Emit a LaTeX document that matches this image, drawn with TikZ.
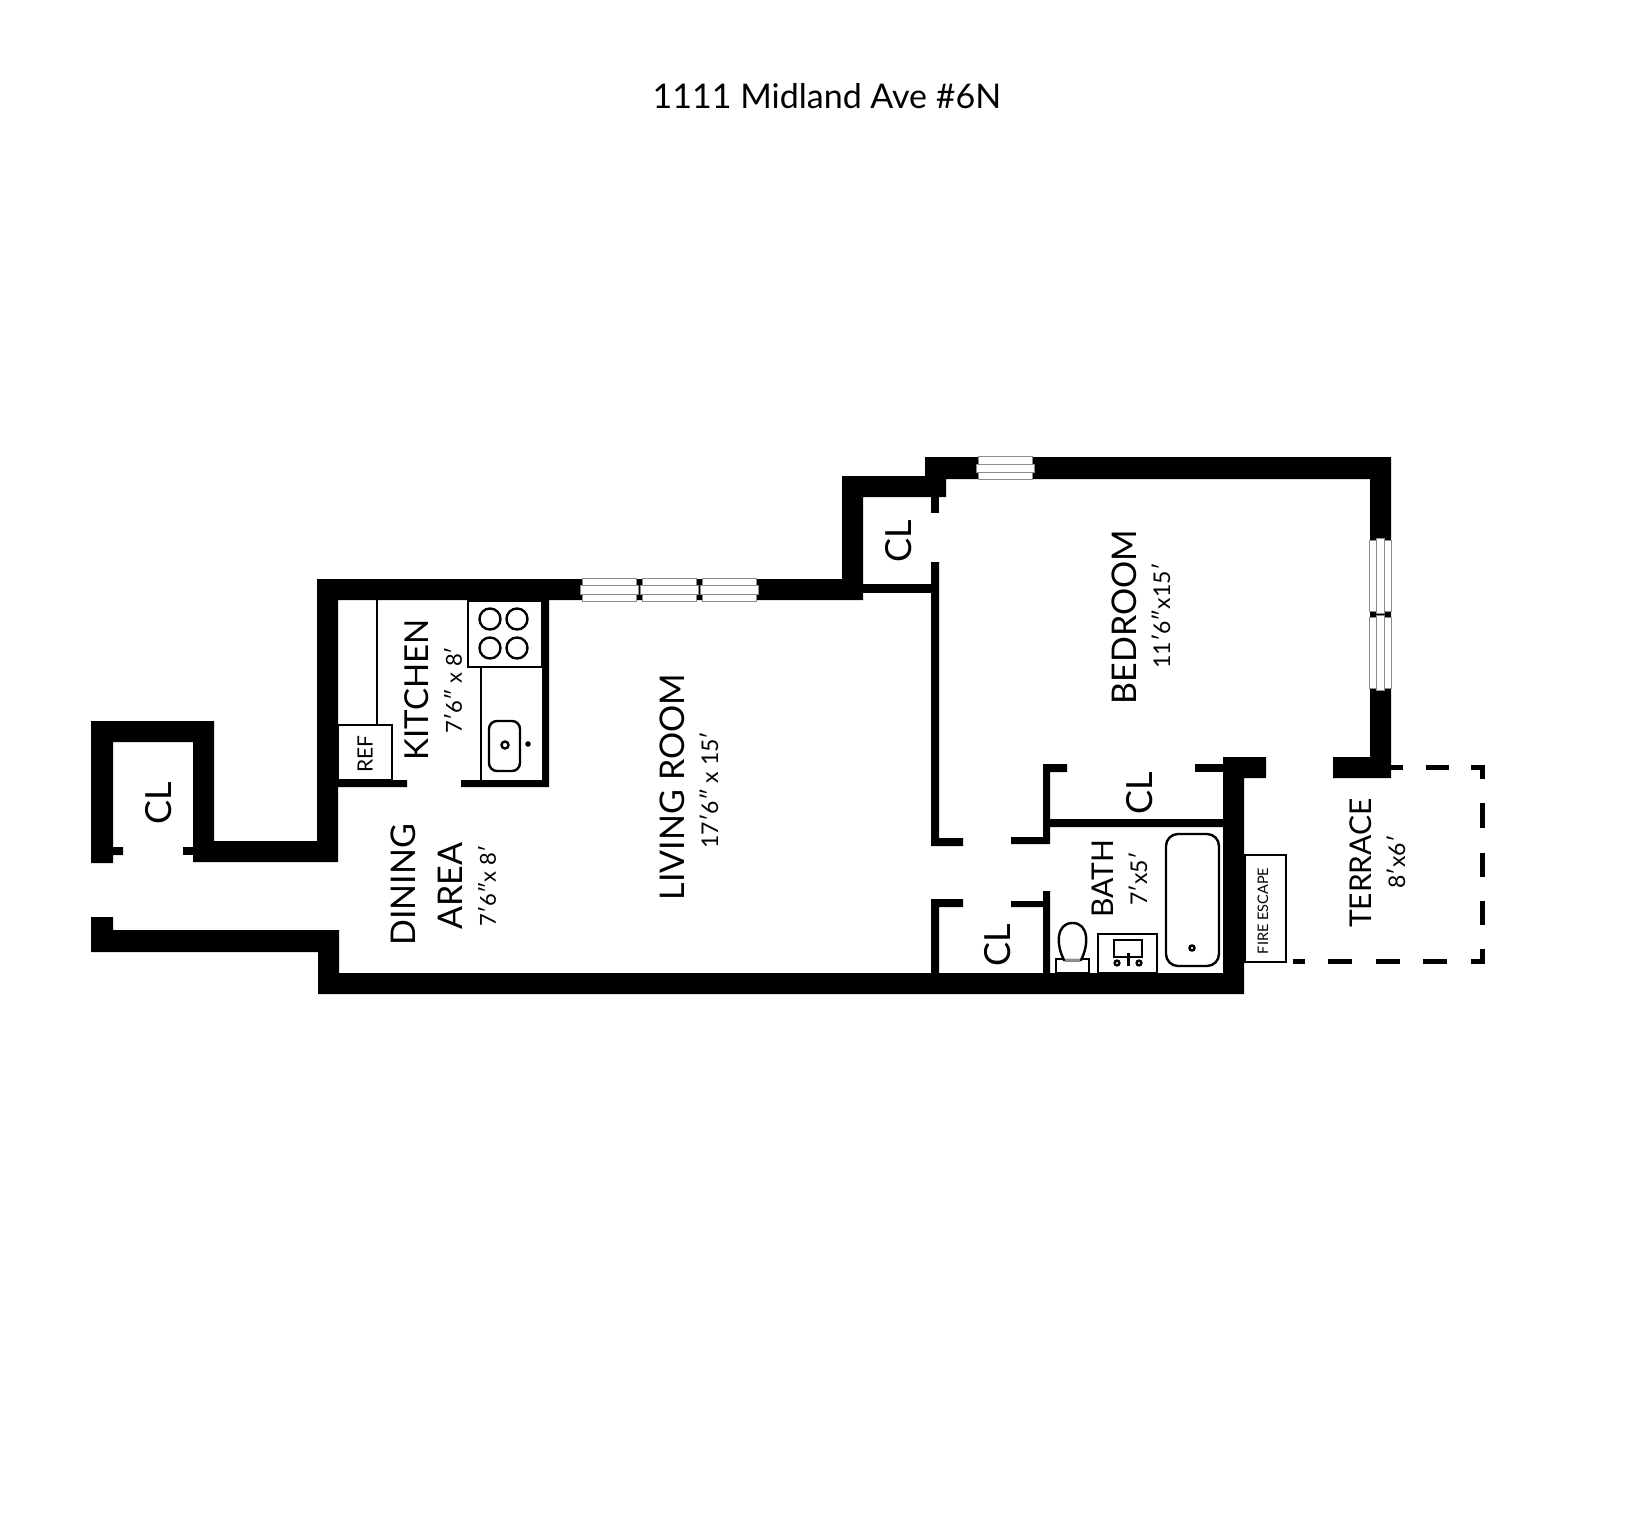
\documentclass[tikz,border=0pt]{standalone}
\usepackage{fontspec}
\setmainfont{Lato}
\usepackage{tikz}
\tikzset{
  wall/.style={fill=black,draw=none},
  fixture/.style={draw=black,line width=2.4pt,fill=white},
  pane/.style={draw=black!45,line width=1pt,fill=white},
  railing/.style={fill=black,draw=none},
  roomname/.style={rotate=90,inner sep=0pt,font=\fontsize{34}{34}\selectfont},
  smallroom/.style={rotate=90,inner sep=0pt,font=\fontsize{30}{30}\selectfont},
  closet/.style={rotate=90,inner sep=0pt,font=\fontsize{36}{36}\selectfont},
  roomsize/.style={rotate=90,inner sep=0pt,font=\fontsize{23}{23}\selectfont}
}
\begin{document}
\begin{tikzpicture}[x=1pt,y=-1pt]
  \useasboundingbox (0,0) rectangle (1634,1536);
  \fill[white] (0,0) rectangle (1634,1536);
  \node[inner sep=0pt,font=\fontsize{34}{34}\selectfont] (title) at (827,96) {1111 Midland Ave \#6N};
  % outer walls
  \fill[wall] (91,863) -- (91,721) -- (214,721) -- (214,841) -- (317,841) -- (317,579) -- (842,579) -- (842,476) -- (925,476) -- (925,457) -- (1391,457) -- (1391,778) -- (1333,778) -- (1333,757) -- (1370,757) -- (1370,479) -- (946,479) -- (946,497) -- (863,497) -- (863,600) -- (549,600) -- (549,787) -- (461,787) -- (461,780) -- (542,780) -- (542,600) -- (338,600) -- (338,780) -- (407,780) -- (407,787) -- (338,787) -- (338,862) -- (193,862) -- (193,742) -- (113,742) -- (113,847) -- (123,847) -- (123,855) -- (113,855) -- (113,863) -- cycle;
  \fill[wall] (183,847) rectangle (193,855);
  \fill[wall] (91,917) -- (113,917) -- (113,930) -- (339,930) -- (339,973) -- (1223,973) -- (1223,757) -- (1266,757) -- (1266,778) -- (1244,778) -- (1244,994) -- (318,994) -- (318,952) -- (91,952) -- cycle;
  % inner walls
  \fill[wall] (931,497) rectangle (939,513);
  \fill[wall] (863,584) rectangle (939,593);
  \fill[wall] (931,562) -- (939,562) -- (939,838) -- (963,838) -- (963,846) -- (931,846) -- cycle;
  \fill[wall] (931,973) -- (931,899) -- (963,899) -- (963,907) -- (939,907) -- (939,973) -- cycle;
  \fill[wall] (1011,901) -- (1043,901) -- (1043,891) -- (1050,891) -- (1050,973) -- (1043,973) -- (1043,907) -- (1011,907) -- cycle;
  \fill[wall] (1011,837) -- (1043,837) -- (1043,764) -- (1067,764) -- (1067,772) -- (1050,772) -- (1050,819) -- (1223,819) -- (1223,827) -- (1050,827) -- (1050,844) -- (1011,844) -- cycle;
  \fill[wall] (1195,764) rectangle (1223,772);
  % windows
  \foreach \xa/\xb in {582/636,642/696,702/756}{
    \draw[pane] (\xa,578) rectangle (\xb,601);
    \draw[pane] (\xa-2,585) rectangle (\xb+2,594);
  }
  \draw[pane] (978,456) rectangle (1032,479);
  \draw[pane] (976,464) rectangle (1034,472);
  \foreach \ya/\yb in {540/611,617/688}{
    \draw[pane] (1369,\ya) rectangle (1391,\yb);
    \draw[pane] (1376,\ya-2) rectangle (1384,\yb+2);
  }
  % kitchen
  \draw[fixture] (377,600) -- (377,725);
  \draw[fixture] (338,725) rectangle (392,780);
  \draw[fixture] (468,601) rectangle (542,667);
  \draw[fixture] (481,667) -- (481,780);
  \foreach \cx in {490,517}{
    \foreach \cy in {619,648}{
      \draw[fixture] (\cx,\cy) circle (10.5);
    }
  }
  \draw[fixture,rounded corners=8] (489,721) rectangle (520,771);
  \draw[fixture] (505,745) circle (3.5);
  \fill (528,744) circle (2.8);
  % bath
  \draw[fixture,rounded corners=12] (1166,834) rectangle (1219,966);
  \draw[fixture] (1192,948) circle (2.5);
  \draw[fixture] (1098,934) rectangle (1157,973);
  \draw[fixture] (1114,940) rectangle (1142,957);
  \fill (1126.7,953) rectangle (1130,966);
  \foreach \cx in {1117,1139}{
    \draw[fixture] (\cx,963) circle (2.4);
  }
  \draw[fixture] (1056,959) rectangle (1089,973);
  \draw[fixture] (1064,960) .. controls (1056,945) and (1056,923) .. (1072.5,923) .. controls (1089,923) and (1089,945) .. (1081,960) -- cycle;
  \fill[black!45] (1065,959) rectangle (1080,962);
  % fire escape
  \draw[fixture] (1245,855) rectangle (1286,962);
  % terrace
  \foreach \xa/\xb in {1391/1403,1426/1449,1471/1485}{
    \fill[railing] (\xa,765) rectangle (\xb,770);
  }
  \foreach \xa/\xb in {1293/1305,1328/1352,1376/1400,1423/1447,1471/1485}{
    \fill[railing] (\xa,959) rectangle (\xb,964);
  }
  \foreach \ya/\yb in {765/779,803/828,853/877,901/925,949/964}{
    \fill[railing] (1480,\ya) rectangle (1485,\yb);
  }
  % labels
  \node[roomname,font=\fontsize{33}{33}\selectfont] (kitchen) at (417,690) {KITCHEN};
  \node[roomsize,font=\fontsize{22}{22}\selectfont] (kitchensize) at (453,690) {7′6″ x 8′};
  \node[rotate=90,inner sep=0pt,font=\fontsize{21}{21}\selectfont] (ref) at (365,754) {REF};
  \node[closet] (closeta) at (159,803) {CL};
  \node[roomname] (dining) at (403,885) {DINING};
  \node[roomname] (area) at (450,886) {AREA};
  \node[roomsize,font=\fontsize{22}{22}\selectfont] (diningsize) at (487,886) {7′6″x 8′};
  \node[roomname] (living) at (672,787) {LIVING ROOM};
  \node[roomsize] (livingsize) at (709,790) {17′6″ x 15′};
  \node[closet] (closetb) at (899,541) {CL};
  \node[roomname] (bedroom) at (1124,617) {BEDROOM};
  \node[roomsize] (bedroomsize) at (1161,616) {11′6″x15′};
  \node[closet] (closetc) at (1140,793) {CL};
  \node[closet] (closetd) at (998,945) {CL};
  \node[smallroom] (bath) at (1103,879) {BATH};
  \node[roomsize] (bathsize) at (1138,879) {7′x5′};
  \node[rotate=90,inner sep=0pt,font=\fontsize{14.5}{14.5}\selectfont] (fire) at (1263,911) {FIRE ESCAPE};
  \node[smallroom] (terrace) at (1361,863) {TERRACE};
  \node[roomsize] (terracesize) at (1396,862) {8′x6′};
\end{tikzpicture}
\end{document}
